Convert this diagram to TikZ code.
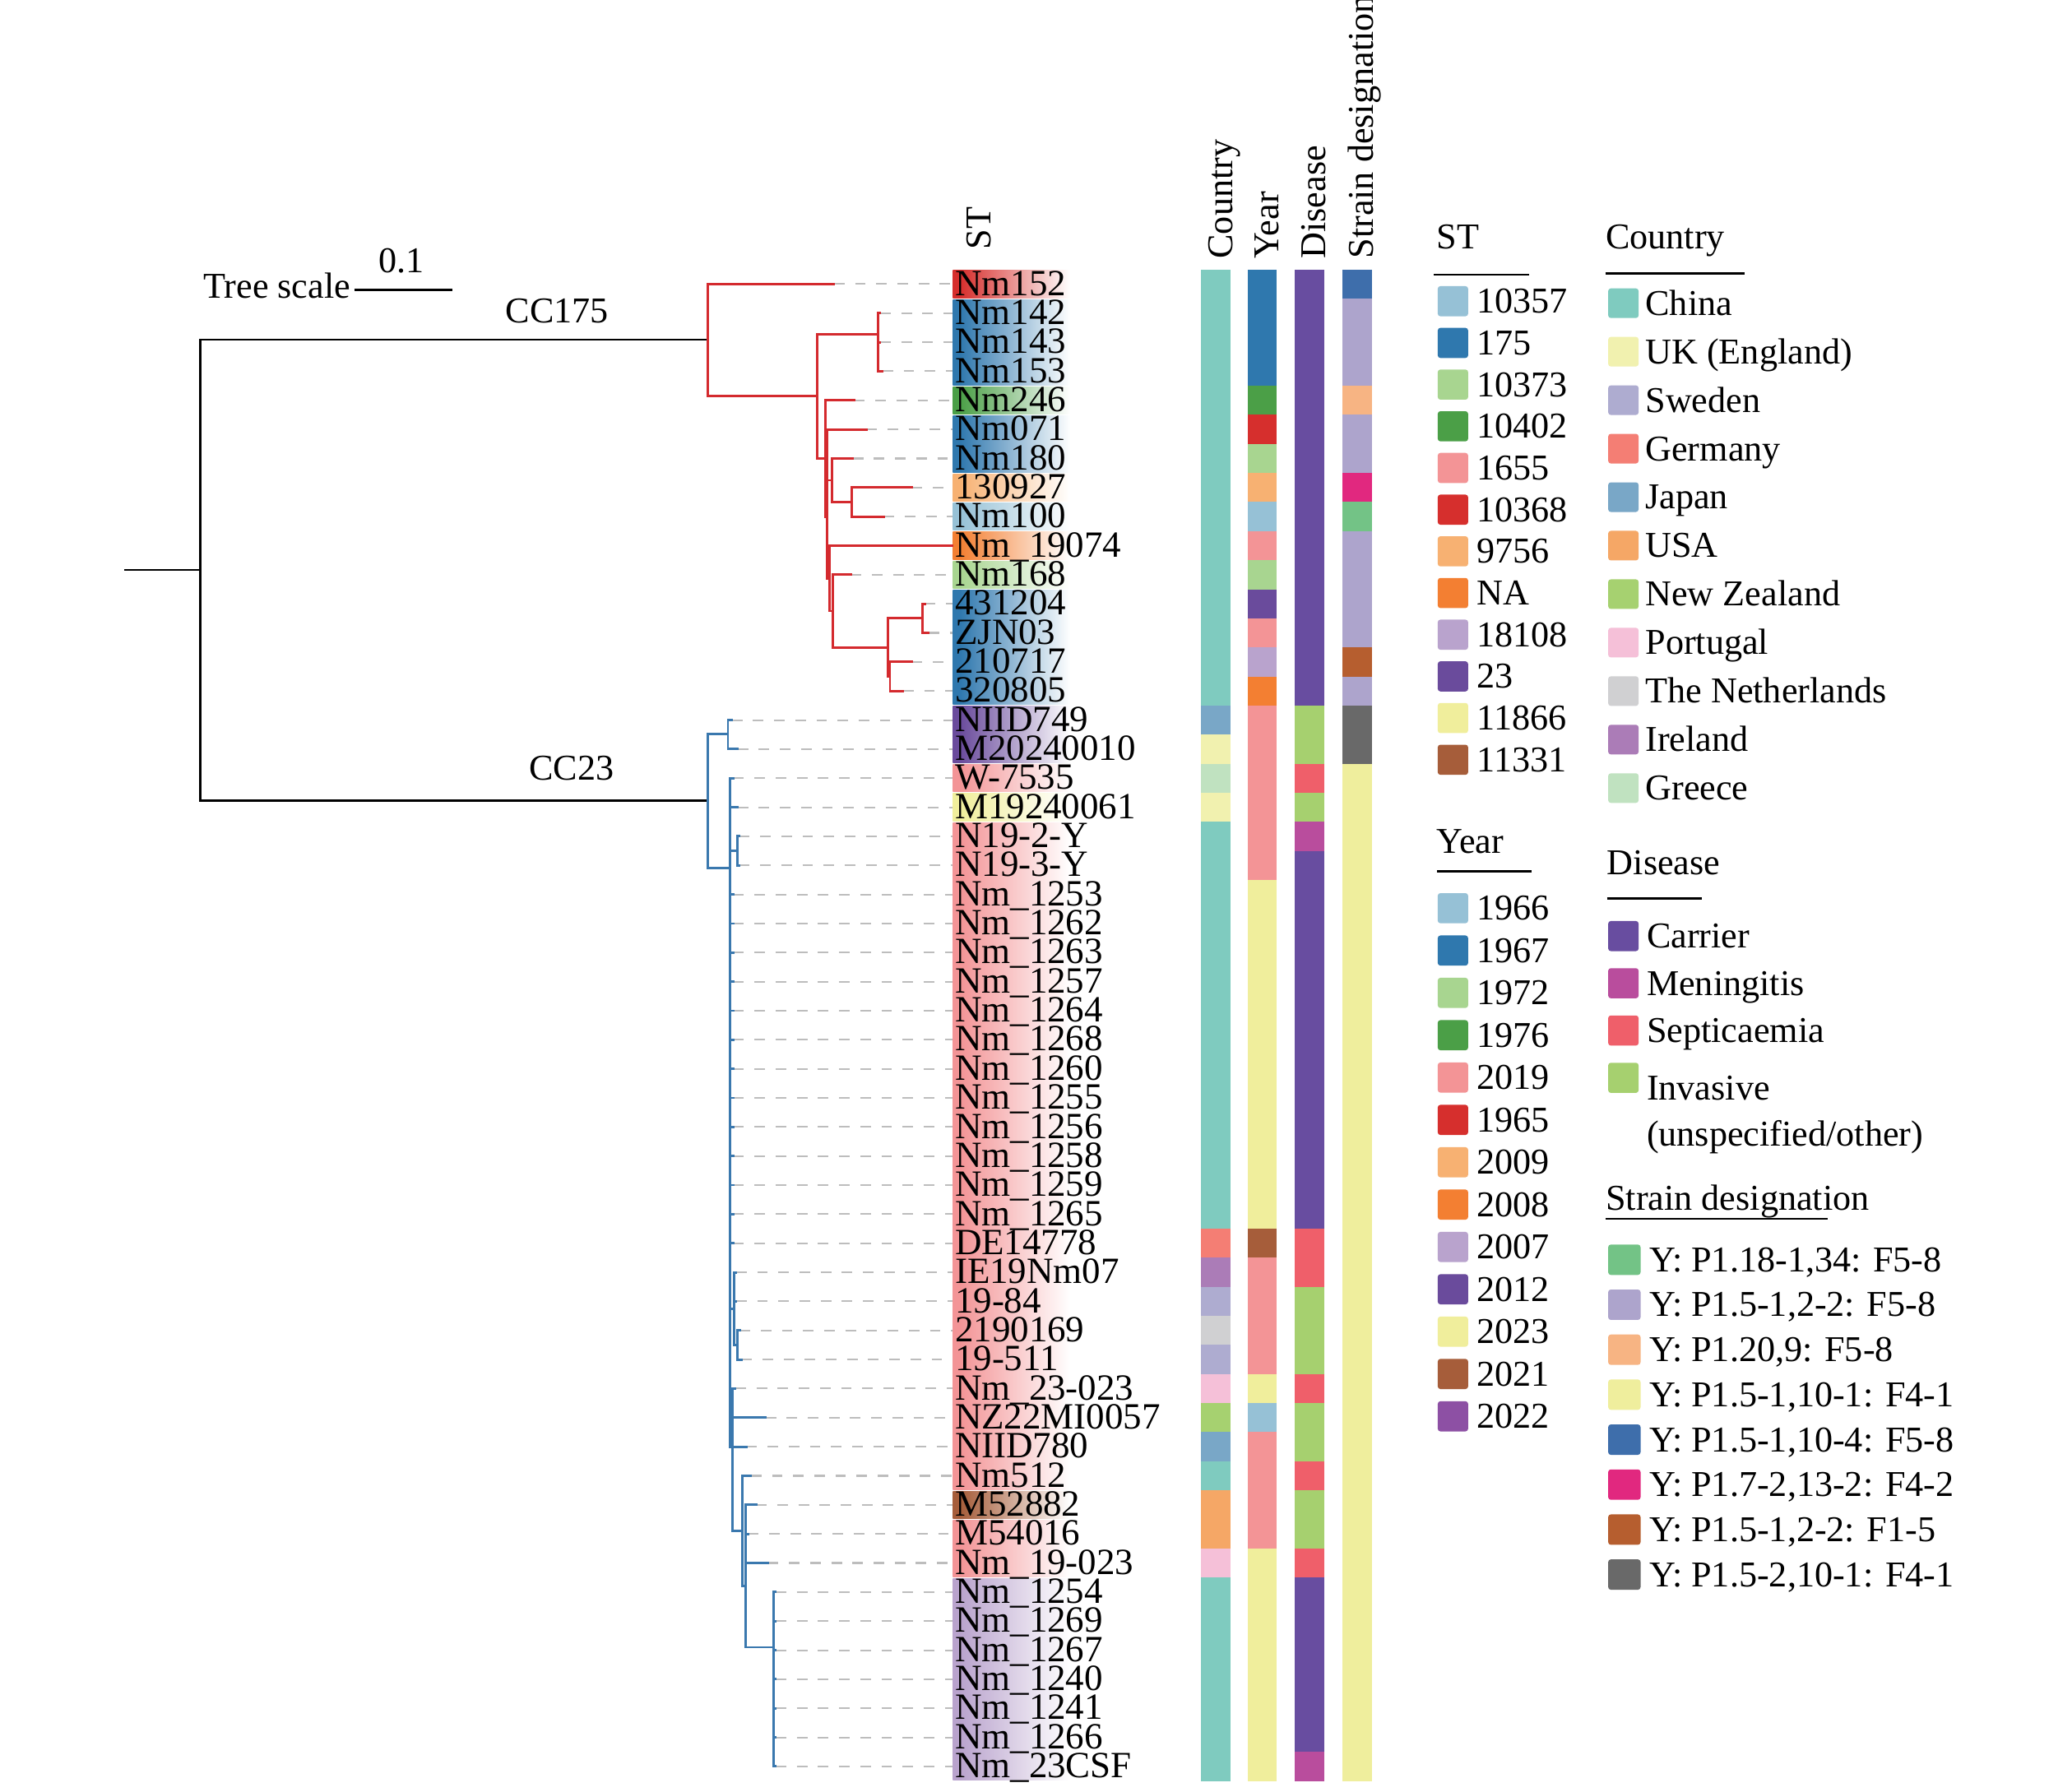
\documentclass[tikz,border=0pt]{standalone}
\usepackage{fontspec}
\setmainfont{Liberation Serif}
\definecolor{treered}{HTML}{D42A2E}
\definecolor{treeblue}{HTML}{3A78AE}
\definecolor{dashgrey}{HTML}{BDBDBD}
% ST / Year palette
\definecolor{c1}{HTML}{96C1D6}
\definecolor{c2}{HTML}{2F78AE}
\definecolor{c3}{HTML}{A8D590}
\definecolor{c4}{HTML}{4B9F47}
\definecolor{c5}{HTML}{F39496}
\definecolor{c6}{HTML}{D62F2D}
\definecolor{c7}{HTML}{F7B172}
\definecolor{c8}{HTML}{F37F32}
\definecolor{c9}{HTML}{B9A3CD}
\definecolor{c10}{HTML}{6A4B9C}
\definecolor{c11}{HTML}{F0EE9C}
\definecolor{c12}{HTML}{A65D3A}
\definecolor{c13}{HTML}{8D50A4}
% Country
\definecolor{chn}{HTML}{7FCBBF}
\definecolor{ukc}{HTML}{F1F1AF}
\definecolor{swe}{HTML}{AEACD0}
\definecolor{ger}{HTML}{F47E74}
\definecolor{jpn}{HTML}{79A7C7}
\definecolor{usa}{HTML}{F5A766}
\definecolor{nzl}{HTML}{A6D170}
\definecolor{por}{HTML}{F5C0D8}
\definecolor{ned}{HTML}{D0D0D2}
\definecolor{irl}{HTML}{AB7CB7}
\definecolor{grc}{HTML}{C0E2C0}
% Disease
\definecolor{car}{HTML}{684DA0}
\definecolor{men}{HTML}{B94D9D}
\definecolor{sep}{HTML}{EF5F6A}
\definecolor{inv}{HTML}{A6D06F}
% Strain designation
\definecolor{sa}{HTML}{73C386}
\definecolor{sb}{HTML}{ADA4CC}
\definecolor{sc}{HTML}{F7B483}
\definecolor{sd}{HTML}{EFEE9D}
\definecolor{se}{HTML}{3E6EAB}
\definecolor{sf}{HTML}{E1287F}
\definecolor{sg}{HTML}{B65E2F}
\definecolor{sh}{HTML}{696969}
\colorlet{gcol}{white}
% the path box is mapped onto 25bp..75bp of the shading
\pgfdeclarehorizontalshading[gcol]{labfade}{100bp}{color(0bp)=(gcol); color(28bp)=(gcol); color(75bp)=(white); color(100bp)=(white)}
\newcommand\RY[1]{215+22*(#1)}
\begin{document}
\begin{tikzpicture}[x=1pt,y=-1pt,
  blk/.style={line width=1.6pt, black},
  rtr/.style={line width=1.8pt, treered, line cap=rect},
  btr/.style={line width=1.8pt, treeblue, line cap=rect},
  dsh/.style={line width=1.3pt, dashgrey, dash pattern=on 8pt off 8pt},
  txt/.style={inner sep=0pt, font=\fontsize{27.5}{30}\selectfont},
  lab/.style={txt, anchor=base west},
  tiplab/.style={inner sep=0pt, anchor=base west, font=\fontsize{28}{30}\selectfont},
  hdr/.style={txt, rotate=90, anchor=base west},
  sq/.style={rounded corners=2pt},
  uline/.style={line width=1.5pt, black}
]
\useasboundingbox (0,0) rectangle (1568,1356);
\fill[white] (0,0) rectangle (1568,1356);

% ---------- ST gradient boxes behind labels ----------
\foreach \a/\b/\c in {0/0/c6,1/3/c2,4/4/c4,5/6/c2,7/7/c7,8/8/c1,9/9/c8,10/10/c3,11/14/c2,15/16/c10,17/17/c5,18/18/c11,19/41/c5,42/42/c12,43/44/c5,45/51/c9}{
  \colorlet{gcol}{\c}
  \shade[shading=labfade] (721,{204.6+22*\a}) rectangle (810,{203.4+22*(\b+1)});
}

% ---------- annotation columns ----------
\foreach \a/\b/\c in {0/14/chn,15/15/jpn,16/16/ukc,17/17/grc,18/18/ukc,19/32/chn,33/33/ger,34/34/irl,35/35/swe,36/36/ned,37/37/swe,38/38/por,39/39/nzl,40/40/jpn,41/41/chn,42/43/usa,44/44/por,45/51/chn}
  {\fill[\c] (909,{204+22*\a}) rectangle (931,{204+22*(\b+1)});}
\foreach \a/\b/\c in {0/3/c2,4/4/c4,5/5/c6,6/6/c3,7/7/c7,8/8/c1,9/9/c5,10/10/c3,11/11/c10,12/12/c5,13/13/c9,14/14/c8,15/20/c5,21/32/c11,33/33/c12,34/37/c5,38/38/c11,39/39/c1,40/43/c5,44/51/c11}
  {\fill[\c] (944,{204+22*\a}) rectangle (966,{204+22*(\b+1)});}
\foreach \a/\b/\c in {0/14/car,15/16/inv,17/17/sep,18/18/inv,19/19/men,20/32/car,33/34/sep,35/37/inv,38/38/sep,39/40/inv,41/41/sep,42/43/inv,44/44/sep,45/50/car,51/51/men}
  {\fill[\c] (980,{204+22*\a}) rectangle (1002,{204+22*(\b+1)});}
\foreach \a/\b/\c in {0/0/se,1/3/sb,4/4/sc,5/6/sb,7/7/sf,8/8/sa,9/12/sb,13/13/sg,14/14/sb,15/16/sh,17/51/sd}
  {\fill[\c] (1016,{204+22*\a}) rectangle (1038,{204+22*(\b+1)});}

% ---------- tips and label anchors ----------
\foreach \i/\x in {0/631.1,1/666,2/666,3/667.8,4/646.4,5/655.6,6/645.3,7/690,8/668.7,9/720.7,10/643.8,11/700,12/702.7,13/690,14/683.4,15/553.8,16/558.2,17/555,18/558.2,19/559.3,20/559.3,21/555,22/555,23/555,24/555,25/555,26/555,27/555,28/555,29/555,30/555,31/555,32/555,33/555,34/557,35/557,36/559.7,37/561,38/556.5,39/579.3,40/564.9,41/568.2,42/572.2,43/566,44/581.1,45/587,46/587,47/587,48/587,49/587,50/587,51/587}{
  \coordinate (t\i) at (\x,{\RY{\i}});
  \coordinate (L\i) at (721,{\RY{\i}});
}
\foreach \i in {0,...,8,10,11,...,51}{\draw[dsh] (t\i) -- (L\i);}

% ---------- backbone ----------
\coordinate (rootL) at (94,431.5);
\coordinate (root) at (151.7,431.5);
\coordinate (n175) at (535.5,257.2);
\coordinate (n23) at (535.5,605.9);
\draw[blk] (rootL) -- (root);
\draw[blk] (root) |- (n175);
\draw[blk] (root) |- (n23);

% ---------- CC175 (red) ----------
\coordinate (r1) at (618.2,{\RY{3.84}});
\coordinate (r2) at (664.5,{\RY{1.72}});
\coordinate (r3) at (624.4,{\RY{6.01}});
\coordinate (r4) at (626,{\RY{8}});
\coordinate (r5) at (629.8,{\RY{6.75}});
\coordinate (r6) at (627.5,{\RY{10.13}});
\coordinate (r7) at (644.4,{\RY{7.5}});
\coordinate (r8) at (630.4,{\RY{11.25}});
\coordinate (r9) at (672,{\RY{12.5}});
\coordinate (r10) at (698.2,{\RY{11.5}});
\coordinate (r11) at (673.5,{\RY{13.5}});
\foreach \p/\c in {n175/t0,n175/r1,r1/r2,r1/r3,r2/t1,r2/t2,r2/t3,r3/t4,r3/r4,r4/t5,r4/r5,r4/r6,r5/t6,r5/r7,r7/t7,r7/t8,r6/t9,r6/r8,r8/t10,r8/r9,r9/r10,r9/r11,r10/t11,r10/t12,r11/t13,r11/t14}
  {\draw[rtr] (\p) |- (\c);}

% ---------- CC23 (blue) ----------
\coordinate (b1) at (550.9,{\RY{15.47}});
\coordinate (b2) at (552.3,{\RY{20.09}});
\coordinate (b3) at (558.2,{\RY{19.5}});
\coordinate (b4) at (555.5,{\RY{35.25}});
\coordinate (b5) at (558.2,{\RY{36.5}});
\coordinate (b6) at (554.2,{\RY{40}});
\coordinate (b7) at (561.5,{\RY{42.9}});
\coordinate (b8) at (564.2,{\RY{44.8}});
\coordinate (b9) at (585.5,{\RY{46.9}});
\foreach \p/\c in {n23/b1,n23/b2,b1/t15,b1/t16,b2/t17,b2/t18,b2/b3,b3/t19,b3/t20,b2/t21,b2/t22,b2/t23,b2/t24,b2/t25,b2/t26,b2/t27,b2/t28,b2/t29,b2/t30,b2/t31,b2/t32,b2/t33,b2/b4,b4/t34,b4/t35,b4/b5,b5/t36,b5/t37,b2/b6,b6/t38,b6/t39,b6/t40,b6/b7,b7/t41,b7/b8,b8/t42,b8/t43,b8/t44,b8/b9,b9/t45,b9/t46,b9/t47,b9/t48,b9/t49,b9/t50,b9/t51}
  {\draw[btr] (\p) |- (\c);}

% ---------- tip labels ----------
\foreach \i/\t in {0/Nm152,1/Nm142,2/Nm143,3/Nm153,4/Nm246,5/Nm071,6/Nm180,7/130927,8/Nm100,9/Nm\_19074,10/Nm168,11/431204,12/ZJN03,13/210717,14/320805,15/NIID749,16/M20240010,17/W-7535,18/M19240061,19/N19-2-Y,20/N19-3-Y,21/Nm\_1253,22/Nm\_1262,23/Nm\_1263,24/Nm\_1257,25/Nm\_1264,26/Nm\_1268,27/Nm\_1260,28/Nm\_1255,29/Nm\_1256,30/Nm\_1258,31/Nm\_1259,32/Nm\_1265,33/DE14778,34/IE19Nm07,35/19-84,36/2190169,37/19-511,38/Nm\_23-023,39/NZ22MI0057,40/NIID780,41/Nm512,42/M52882,43/M54016,44/Nm\_19-023,45/Nm\_1254,46/Nm\_1269,47/Nm\_1267,48/Nm\_1240,49/Nm\_1241,50/Nm\_1266,51/Nm\_23CSF}
  {\node[tiplab] (lab\i) at (722.5,{\RY{\i}+8.5}) {\t};}

% ---------- scale and clade labels ----------
\coordinate (sbL) at (268,219.5);
\coordinate (sbR) at (342.3,219.5);
\draw[uline] (sbL) -- (sbR);
\node[lab] (tscale) at (153.7,225.7) {Tree scale};
\node[txt, anchor=base] (tsval) at (304,206.6) {0.1};
\node[lab] (cc175) at (382.4,244.3) {CC175};
\node[lab] (cc23) at (400.2,590.1) {CC23};

% ---------- column headers ----------
\node[hdr] (hST) at (749.5,189) {ST};
\node[hdr] (hCountry) at (932.5,196) {Country};
\node[hdr] (hYear) at (967.5,196) {Year};
\node[hdr] (hDisease) at (1003,196) {Disease};
\node[hdr] (hStrain) at (1039,196) {Strain designation};

% ---------- legends ----------
\node[lab] (lgST) at (1087,188) {ST};
\draw[uline] (1085,208) -- (1157,208);
\foreach \k/\c/\t in {0/c1/10357,1/c2/175,2/c3/10373,3/c4/10402,4/c5/1655,5/c6/10368,6/c7/9756,7/c8/NA,8/c9/18108,9/c10/23,10/c11/11866,11/c12/11331}{
  \fill[sq,\c] (1088,{228+31.55*\k-11.4}) rectangle (1111,{228+31.55*\k+11.4});
  \node[lab] (lst\k) at (1117.5,{228+31.55*\k+9}) {\t};
}
\node[lab] (lgYear) at (1087,645.7) {Year};
\draw[uline] (1087.6,659.5) -- (1159.2,659.5);
\foreach \k/\c/\t in {0/c1/1966,1/c2/1967,2/c3/1972,3/c4/1976,4/c5/2019,5/c6/1965,6/c7/2009,7/c8/2008,8/c9/2007,9/c10/2012,10/c11/2023,11/c12/2021,12/c13/2022}{
  \fill[sq,\c] (1088,{687.4+32.05*\k-11.4}) rectangle (1111,{687.4+32.05*\k+11.4});
  \node[lab] (lyr\k) at (1117.5,{687.4+32.05*\k+9}) {\t};
}
\node[lab] (lgCountry) at (1215,188) {Country};
\draw[uline] (1215,207) -- (1320,207);
\foreach \k/\c/\t in {0/chn/China,1/ukc/UK (England),2/swe/Sweden,3/ger/Germany,4/jpn/Japan,5/usa/USA,6/nzl/New Zealand,7/por/Portugal,8/ned/The Netherlands,9/irl/Ireland,10/grc/Greece}{
  \fill[sq,\c] (1217,{229.5+36.7*\k-11.2}) rectangle (1240,{229.5+36.7*\k+11.2});
  \node[lab] (lco\k) at (1245,{229.5+36.7*\k+9}) {\t};
}
\node[lab] (lgDisease) at (1216,662) {Disease};
\draw[uline] (1216,680) -- (1288,680);
\foreach \k/\c/\y/\t in {0/car/708.5/Carrier,1/men/744.2/Meningitis,2/sep/780/Septicaemia}{
  \fill[sq,\c] (1217,{\y-11.4}) rectangle (1240,{\y+11.4});
  \node[lab] (ldi\k) at (1246,{\y+9}) {\t};
}
\fill[sq,inv] (1217,804.4) rectangle (1240,827.2);
\node[lab] (ldi3) at (1246,832.5) {Invasive};
\node[lab] (ldi3b) at (1246,867.5) {(unspecified/other)};
\node[lab] (lgStrain) at (1215,916) {Strain designation};
\draw[uline] (1215,922.5) -- (1383,922.5);
\foreach \k/\c/\t in {0/sa/{Y: P1.18-1,34: F5-8},1/sb/{Y: P1.5-1,2-2: F5-8},2/sc/{Y: P1.20,9: F5-8},3/sd/{Y: P1.5-1,10-1: F4-1},4/se/{Y: P1.5-1,10-4: F5-8},5/sf/{Y: P1.7-2,13-2: F4-2},6/sg/{Y: P1.5-1,2-2: F1-5},7/sh/{Y: P1.5-2,10-1: F4-1}}{
  \fill[sq,\c] (1217,{953.5+34.04*\k-11.5}) rectangle (1241.5,{953.5+34.04*\k+11.5});
  \node[lab] (lsd\k) at (1248,{953.5+34.04*\k+9}) {\t};
}
\end{tikzpicture}
\end{document}
